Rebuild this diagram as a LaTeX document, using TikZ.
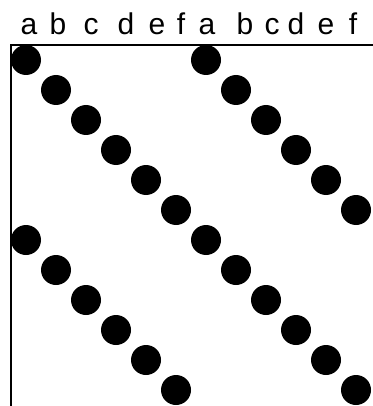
\documentclass[tikz,border=0pt]{standalone}
\usepackage{fontspec}
\setmainfont{Liberation Sans}
\begin{document}
\begin{tikzpicture}[x=1pt,y=-1pt,
  dot/.style={circle,fill=black,inner sep=0pt,minimum size=30pt},
  lbl/.style={anchor=base,inner sep=0pt,font=\fontsize{30}{32}\selectfont},
  axis/.style={line width=2.2pt}]
\useasboundingbox (0,0) rectangle (372,406);
% labels
\foreach \l/\x [count=\i from 0] in {a/29,b/58,c/91,d/126,e/157,f/181,a/207,b/245,c/272,d/296,e/326,f/353}{
  \node[lbl] (l\i) at (\x,35) {\l};
}
% axes
\coordinate (tl) at (11,45);
\coordinate (tr) at (373,45);
\coordinate (bl) at (11,407);
\draw[axis] (tr) -- (tl) -- (bl);
% long diagonal
\foreach \i in {0,...,11}{
  \node[dot] (d1-\i) at ({26+30*\i},{60+30*\i}) {};
}
% upper-right diagonal
\foreach \i in {0,...,5}{
  \node[dot] (d2-\i) at ({206+30*\i},{60+30*\i}) {};
}
% lower-left diagonal
\foreach \i in {0,...,5}{
  \node[dot] (d3-\i) at ({26+30*\i},{240+30*\i}) {};
}
\end{tikzpicture}
\end{document}
